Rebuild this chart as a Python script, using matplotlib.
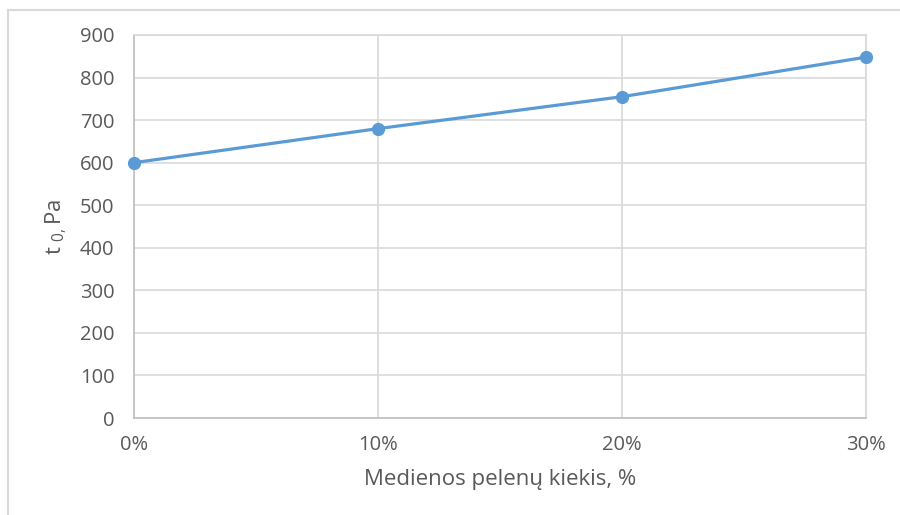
import matplotlib
matplotlib.use("Agg")
import matplotlib.pyplot as plt
from matplotlib.patches import Rectangle

# data
categories = ["0%", "10%", "20%", "30%"]
values = [600, 680, 755, 848]
y_ticks = [0, 100, 200, 300, 400, 500, 600, 700, 800, 900]

plt.rcParams["font.family"] = ["Open Sans", "DejaVu Sans"]
plt.rcParams["mathtext.default"] = "regular"

GRID = "#d9d9d9"
TXT = "#595959"

fig = plt.figure(figsize=(9, 5.15), dpi=100)
ax = fig.add_axes([134 / 900, 1 - 418 / 515, (866 - 134) / 900, (418 - 35) / 515])

x = list(range(len(categories)))
ax.plot(x, values, color="#5b9bd5", lw=2.3, marker="o", ms=8.5, zorder=3,
        clip_on=False)

ax.set_xlim(0, len(categories) - 1)
ax.set_ylim(0, 900)
ax.set_xticks(x)
ax.set_xticklabels(categories)
ax.set_yticks(y_ticks)
ax.grid(True, color=GRID, lw=1.2)
ax.set_axisbelow(True)
for s in ["top", "right"]:
    ax.spines[s].set_color(GRID)
    ax.spines[s].set_linewidth(1.2)
for s in ["left", "bottom"]:
    ax.spines[s].set_color("#bfbfbf")
    ax.spines[s].set_linewidth(1.2)
ax.tick_params(length=0, labelsize=14.5, colors=TXT, pad=14)
ax.tick_params(axis="x", pad=12)

ax.set_xlabel("Medienos pelenų kiekis, %", fontsize=16, color=TXT, labelpad=10)
ax.set_ylabel(r"t $_{0,}$Pa", fontsize=16, color=TXT, labelpad=8)

# outer chart frame
fig.patches.append(Rectangle((8 / 900, -0.2), 1.0, 1.2 - 10 / 515,
                             transform=fig.transFigure, fill=False,
                             edgecolor=GRID, lw=1.5))

fig.savefig("out.png", dpi=100)
